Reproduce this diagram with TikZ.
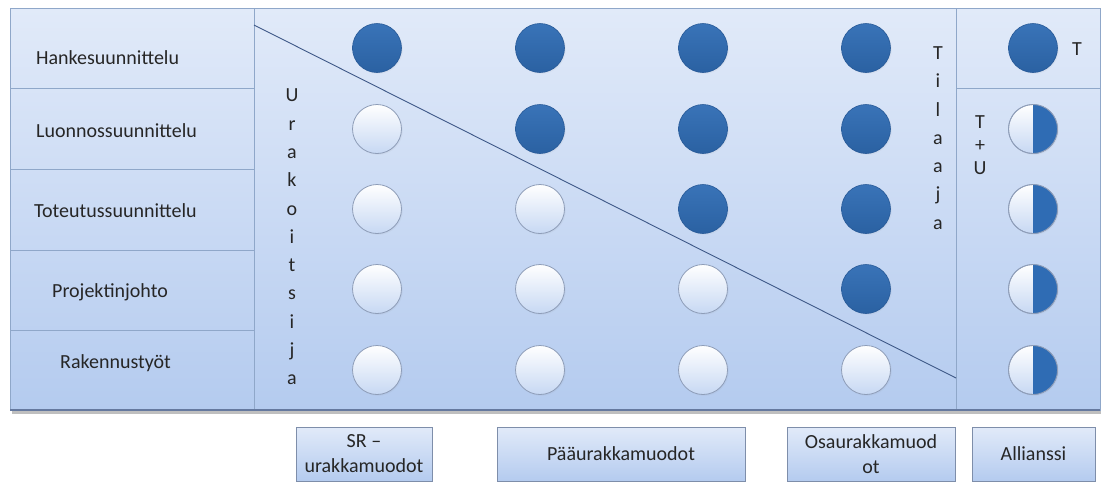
\documentclass[tikz,border=0pt]{standalone}
\usepackage{fontspec}
\setmainfont{Carlito}
\usetikzlibrary{shadows,calc}
\definecolor{dk}{HTML}{2F6CB4}
\definecolor{dkedge}{HTML}{285A98}
\definecolor{panelTop}{HTML}{E1EAF9}
\definecolor{panelBot}{HTML}{B4CBEF}
\definecolor{rule}{HTML}{8FA7C9}
\definecolor{lightEdge}{HTML}{8E9DB8}
\definecolor{diag}{HTML}{3E5887}
\definecolor{boxEdge}{HTML}{7E8EAA}
\tikzset{
  lbl/.style={font=\fontsize{20}{22}\selectfont, text=black!85, inner sep=0pt},
  vlbl/.style={font=\fontsize{20}{28.3}\selectfont, text=black!85, align=center, inner sep=0pt},
  dot/.style={circle, minimum size=49pt, inner sep=0pt,
     circular drop shadow={opacity=0.18, shadow xshift=0.8pt, shadow yshift=-0.8pt, shadow scale=1.03}},
  full/.style={dot, top color=dk!95!white, bottom color=dk!90!black, draw=dkedge, line width=0.6pt},
  empty/.style={dot, top color=white, bottom color=panelBot!75, draw=lightEdge, line width=0.8pt},
  half/.style={empty},
  catbox/.style={draw=boxEdge, line width=0.8pt, top color=panelTop, bottom color=panelBot,
     font=\fontsize{20}{25}\selectfont, align=center, text=black!85, inner sep=0pt,
     drop shadow={opacity=0.25, shadow xshift=1.2pt, shadow yshift=-1.2pt}},
  gridline/.style={draw=rule, line width=0.9pt}
}
\newcommand{\halffill}[1]{%
  \begin{scope}
    \clip (#1.north) rectangle ($(#1.south)+(30,0)$);
    \fill[dk] (#1.center) circle[radius=24.5pt];
  \end{scope}
  \draw[lightEdge, line width=0.8pt] (#1.center) circle[radius=24.5pt];
}
\begin{document}
\begin{tikzpicture}[x=1pt,y=-1pt]
\useasboundingbox (0,0) rectangle (1101,483);
% shadow under frame
\fill[black!25] (12,410) rectangle (1101,414);
% panels
\shade[top color=panelTop, bottom color=panelBot] (10,8) rectangle (254,410);
\shade[top color=panelTop, bottom color=panelBot] (254,8) rectangle (956,410);
\shade[top color=panelTop, bottom color=panelBot] (956,8) rectangle (1100,410);
% grid lines
\draw[gridline] (10,8) rectangle (1100,410);
\draw[gridline] (254,8) -- (254,410);
\draw[gridline] (956,8) -- (956,410);
\foreach \yy in {88,169,250,330} \draw[gridline] (10,\yy) -- (254,\yy);
\draw[gridline] (956,88) -- (1100,88);
\draw[draw=diag!80, line width=1.6pt] (10,410) -- (1100,410);
% diagonal
\coordinate (dA) at (254,25);
\coordinate (dB) at (956,378);
\draw[diag, line width=0.9pt] (dA) -- (dB);
% row labels
\node[lbl, anchor=west] (r1) at (36,58) {Hankesuunnittelu};
\node[lbl, anchor=west] (r2) at (36,131) {Luonnossuunnittelu};
\node[lbl, anchor=west] (r3) at (34,211) {Toteutussuunnittelu};
\node[lbl, anchor=west] (r4) at (52,292) {Projektinjohto};
\node[lbl, anchor=west] (r5) at (60,363) {Rakennustyöt};
% vertical labels
\node[vlbl] (urak) at (292,237) {U\\r\\a\\k\\o\\i\\t\\s\\i\\j\\a};
\node[vlbl] (tilaaja) at (938,138) {T\\i\\l\\a\\a\\j\\a};
\node[font=\fontsize{20}{23}\selectfont, text=black!85, align=center, inner sep=0pt] (tu) at (980,145) {T\\+\\U};
\node[lbl] (tt) at (1077,49) {T};
% circles row 1
\node[full] (c11) at (377,48) {};
\node[full] (c12) at (540,48) {};
\node[full] (c13) at (703,48) {};
\node[full] (c14) at (866,48) {};
\node[full] (c15) at (1033,48) {};
% row 2
\node[empty] (c21) at (377,129) {};
\node[full] (c22) at (540,129) {};
\node[full] (c23) at (703,129) {};
\node[full] (c24) at (866,129) {};
\node[half] (c25) at (1033,129) {};
% row 3
\node[empty] (c31) at (377,209) {};
\node[empty] (c32) at (540,209) {};
\node[full] (c33) at (703,209) {};
\node[full] (c34) at (866,209) {};
\node[half] (c35) at (1033,209) {};
% row 4
\node[empty] (c41) at (377,289) {};
\node[empty] (c42) at (540,289) {};
\node[empty] (c43) at (703,289) {};
\node[full] (c44) at (866,289) {};
\node[half] (c45) at (1033,289) {};
% row 5
\node[empty] (c51) at (377,370) {};
\node[empty] (c52) at (540,370) {};
\node[empty] (c53) at (703,370) {};
\node[empty] (c54) at (866,370) {};
\node[half] (c55) at (1033,370) {};
\halffill{c25}
\halffill{c35}
\halffill{c45}
\halffill{c55}
% bottom boxes
\node[catbox, minimum width=136pt, minimum height=54pt] (b1) at (364,454) {SR –\\urakkamuodot};
\node[catbox, minimum width=248pt, minimum height=54pt] (b2) at (621,454) {Pääurakkamuodot};
\node[catbox, minimum width=168pt, minimum height=54pt] (b3) at (871,454) {Osaurakkamuod\\ot};
\node[catbox, minimum width=123pt, minimum height=54pt] (b4) at (1033.5,454) {Allianssi};
\end{tikzpicture}
\end{document}
